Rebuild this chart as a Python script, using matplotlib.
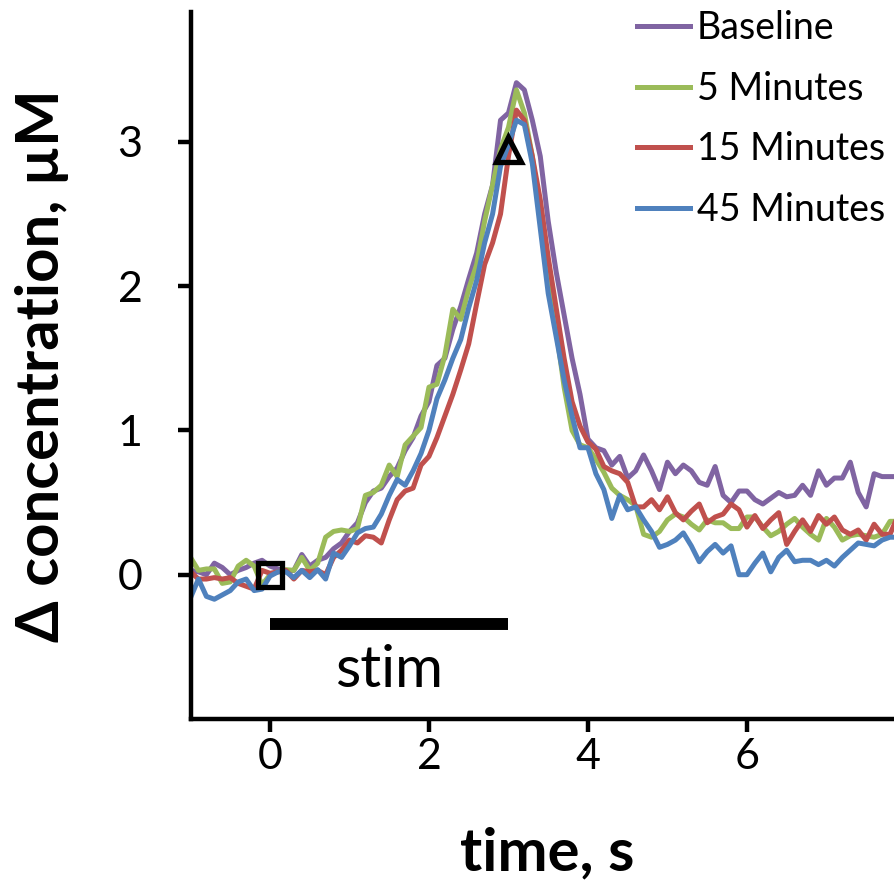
import numpy as np
import matplotlib
matplotlib.use("Agg")
import matplotlib.pyplot as plt

plt.rcParams['font.family'] = ['Lato', 'DejaVu Sans']

# time axis, 10 samples per second
time_s = np.round(np.arange(-1.0, 7.95, 0.1), 1)

baseline = [0.03, 0.02, 0.00, 0.08, 0.05, 0.00, 0.03, 0.05, 0.08, 0.10,
            0.06, 0.04, 0.02, 0.03, 0.14, 0.06, 0.10, 0.12, 0.18, 0.22,
            0.30, 0.36, 0.50, 0.58, 0.60, 0.68, 0.74, 0.86, 0.95, 1.10,
            1.20, 1.45, 1.50, 1.70, 1.86, 2.05, 2.23, 2.50, 2.70, 3.15,
            3.20, 3.41, 3.36, 3.15, 2.90, 2.45, 2.10, 1.80, 1.50, 1.25,
            0.94, 0.88, 0.86, 0.76, 0.82, 0.67, 0.72, 0.83, 0.72, 0.59,
            0.78, 0.70, 0.76, 0.72, 0.64, 0.62, 0.75, 0.55, 0.50, 0.58,
            0.58, 0.52, 0.49, 0.53, 0.57, 0.54, 0.55, 0.62, 0.55, 0.72,
            0.62, 0.67, 0.67, 0.78, 0.57, 0.47, 0.70, 0.68, 0.68, 0.68]

min5 = [0.12, 0.03, 0.04, 0.04, -0.06, -0.05, 0.06, 0.10, 0.06, -0.07,
        0.00, 0.02, 0.035, 0.03, 0.12, 0.03, 0.08, 0.26, 0.30, 0.31,
        0.30, 0.32, 0.55, 0.57, 0.62, 0.76, 0.68, 0.90, 0.96, 1.02,
        1.30, 1.32, 1.52, 1.84, 1.77, 1.98, 2.15, 2.45, 2.70, 2.95,
        3.10, 3.36, 3.20, 2.90, 2.50, 2.05, 1.70, 1.30, 1.00, 0.90,
        0.88, 0.80, 0.71, 0.60, 0.55, 0.52, 0.48, 0.28, 0.26, 0.30,
        0.38, 0.42, 0.40, 0.35, 0.31, 0.38, 0.36, 0.36, 0.32, 0.32,
        0.40, 0.40, 0.33, 0.27, 0.30, 0.35, 0.39, 0.33, 0.28, 0.24,
        0.39, 0.33, 0.24, 0.27, 0.28, 0.27, 0.26, 0.28, 0.37, 0.37]

min15 = [0.02, -0.03, -0.03, -0.02, -0.03, -0.02, -0.06, -0.08, -0.10, 0.03,
         0.01, 0.02, 0.03, -0.03, 0.03, 0.02, 0.03, 0.00, 0.12, 0.17,
         0.24, 0.22, 0.27, 0.26, 0.22, 0.38, 0.52, 0.58, 0.60, 0.76,
         0.82, 0.95, 1.10, 1.25, 1.42, 1.60, 1.88, 2.15, 2.30, 2.50,
         2.90, 3.22, 3.15, 2.90, 2.60, 2.20, 1.85, 1.50, 1.20, 1.03,
         0.92, 0.87, 0.75, 0.72, 0.70, 0.64, 0.47, 0.47, 0.52, 0.45,
         0.54, 0.43, 0.38, 0.44, 0.49, 0.36, 0.40, 0.42, 0.49, 0.45,
         0.33, 0.41, 0.32, 0.38, 0.43, 0.21, 0.30, 0.38, 0.30, 0.41,
         0.35, 0.40, 0.31, 0.28, 0.31, 0.24, 0.35, 0.28, 0.28, 0.41]

min45 = [-0.16, -0.03, -0.15, -0.17, -0.14, -0.11, -0.05, -0.03, -0.11, -0.10,
         -0.01, 0.02, 0.02, -0.02, 0.03, -0.02, 0.035, -0.03, 0.15, 0.12,
         0.20, 0.29, 0.32, 0.33, 0.42, 0.55, 0.66, 0.62, 0.72, 0.84,
         1.00, 1.22, 1.35, 1.50, 1.63, 1.85, 2.04, 2.30, 2.50, 2.83,
         2.98, 3.15, 3.12, 2.85, 2.40, 1.95, 1.65, 1.35, 1.10, 0.88,
         0.88, 0.70, 0.59, 0.39, 0.55, 0.45, 0.47, 0.38, 0.30, 0.19,
         0.21, 0.24, 0.29, 0.20, 0.09, 0.16, 0.21, 0.15, 0.20, 0.00,
         0.00, 0.08, 0.15, 0.02, 0.12, 0.17, 0.09, 0.10, 0.10, 0.07,
         0.10, 0.06, 0.12, 0.17, 0.22, 0.21, 0.20, 0.24, 0.26, 0.26]

series = [("Baseline", baseline, "#8064A2"),
          ("5 Minutes", min5, "#9BBB59"),
          ("15 Minutes", min15, "#C0504D"),
          ("45 Minutes", min45, "#4F81BD")]

stim_on, stim_off = 0.0, 3.0
stim_y = -0.34

W, H = 894, 886
fig = plt.figure(figsize=(W / 100, H / 100), dpi=100)
ax = fig.add_axes([190.5 / W, (H - 719) / H, (W - 190.5) / W, 707 / H])

for name, vals, col in series:
    ax.plot(time_s, vals, color=col, lw=3.6, label=name)

# stimulation bar and markers
ax.plot([stim_on, stim_off], [stim_y, stim_y], color='black', lw=8.6, solid_capstyle='butt')
ax.text((stim_on + stim_off) / 2, -0.78, "stim", ha='center', va='baseline', fontsize=42)
ax.plot([0.0], [0.0], marker='s', ms=17, mfc='none', mec='black', mew=3.8, zorder=5)
ax.plot([3.0], [2.95], marker='^', ms=18, mfc='none', mec='black', mew=3.8, zorder=5)

ax.set_xlim(-1, 7.85)
ax.set_ylim(-1, 3.9)
ax.set_xticks([0, 2, 4, 6])
ax.set_yticks([0, 1, 2, 3])

for s in ['top', 'right']:
    ax.spines[s].set_visible(False)
for s in ['left', 'bottom']:
    ax.spines[s].set_linewidth(3.2)
ax.tick_params(direction='out', length=9.5, width=3.2, labelsize=31)
ax.tick_params(axis='y', pad=25)
ax.tick_params(axis='x', pad=4)

ax.set_xlabel("time, s", fontsize=43, fontweight='bold')
ax.set_ylabel("Δ concentration, µM", fontsize=43, fontweight='bold')
ax.xaxis.set_label_coords(0.507, -0.152)
ax.yaxis.set_label_coords(-0.172, 0.5)

leg = ax.legend(loc='upper left', bbox_to_anchor=(637 / W, 1 - 10 / H),
                bbox_transform=fig.transFigure, frameon=False, fontsize=27,
                handlelength=1.4, handletextpad=0.2, labelspacing=0.66,
                borderpad=0, borderaxespad=0)

fig.savefig("out.png", dpi=100)
